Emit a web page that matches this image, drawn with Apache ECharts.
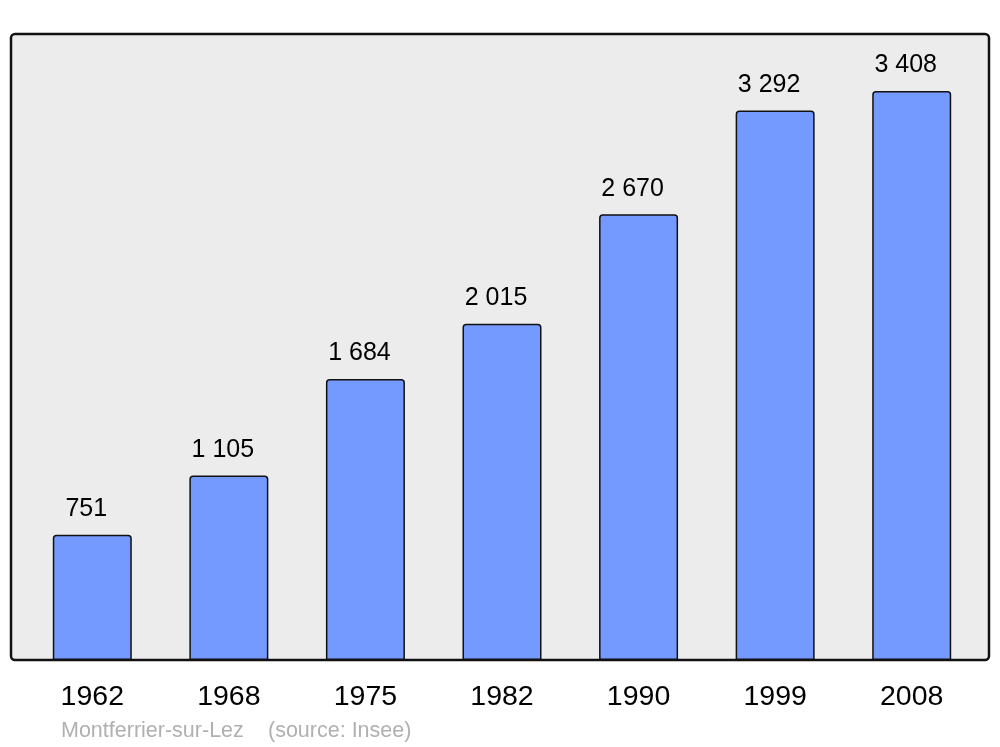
<!DOCTYPE html>
<html><head><meta charset="utf-8">
<script src="https://cdn.jsdelivr.net/npm/echarts@6/dist/echarts.min.js"></script>
<style>html,body{margin:0;padding:0;background:#fff}#c{width:1000px;height:747px}</style>
</head><body><div id="c"></div>
<script>
const categories = ['1962','1968','1975','1982','1990','1999','2008'];
const population = [751, 1105, 1684, 2015, 2670, 3292, 3408];
const footerName = 'Montferrier-sur-Lez';
const footerSource = '(source: Insee)';

function fmt(v){ return String(v).replace(/\B(?=(\d{3})+(?!\d))/g, ' '); }

const chart = echarts.init(document.getElementById('c'), null, {renderer:'canvas'});
chart.setOption({
  animation:false,
  textStyle:{fontFamily:'Liberation Sans, Arial, sans-serif'},
  graphic:[
    {type:'rect', z:-10, shape:{x:11, y:34, width:978, height:626, r:4},
     style:{fill:'#ececec', stroke:'#111', lineWidth:2.5}},
    {type:'text', left:61, top:720, style:{text:footerName, fill:'#b0b0b0', font:'21.5px "Liberation Sans", Arial, sans-serif'}},
    {type:'text', left:268, top:720, style:{text:footerSource, fill:'#b0b0b0', font:'21.5px "Liberation Sans", Arial, sans-serif'}}
  ],
  grid:{left:24, right:20, top:34, bottom:87, containLabel:false},
  xAxis:{type:'category', data:categories,
    axisLine:{show:false},
    axisTick:{show:false},
    axisLabel:{color:'#000', fontSize:28.5, margin:23, fontFamily:'Liberation Sans, Arial, sans-serif'}},
  yAxis:{type:'value', min:0, max:3750, show:false, splitLine:{show:false}},
  series:[{type:'bar', data:population, barWidth:79,
    itemStyle:{color:'#7499ff', borderColor:'#111', borderWidth:1.5, borderRadius:[3,3,0,0]},
    label:{show:true, position:'top', distance:13, offset:[-6,0], color:'#000', fontSize:25,
      fontFamily:'Liberation Sans, Arial, sans-serif', formatter:p=>fmt(p.value)}}]
});
</script></body></html>
